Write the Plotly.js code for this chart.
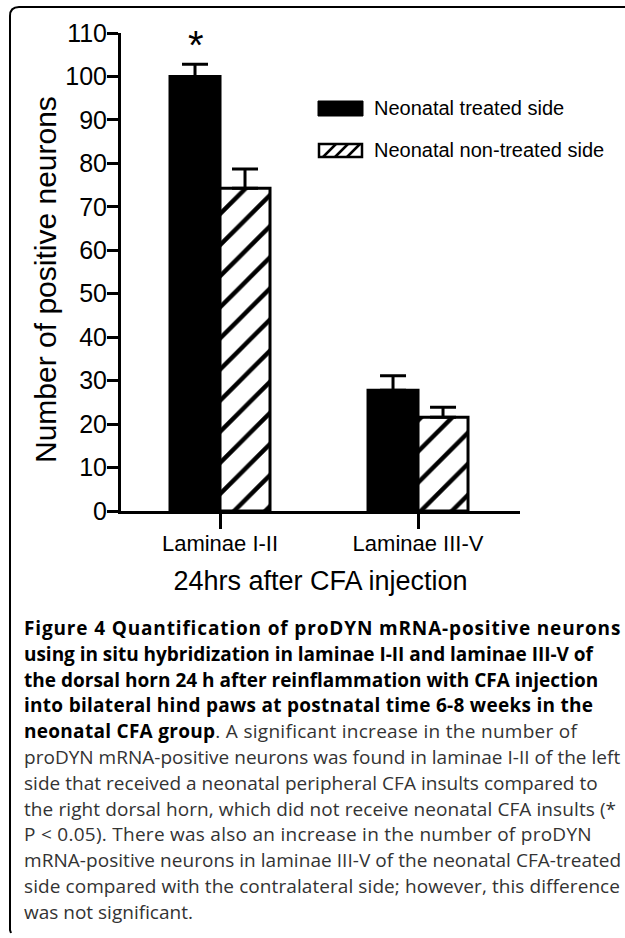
<!DOCTYPE html>
<html>
<head>
<meta charset="utf-8">
<script src="https://cdn.plot.ly/plotly-3.0.1.min.js"></script>
<style>html,body{margin:0;padding:0;background:#fff;}#chart{width:625px;height:938px;}</style>
</head>
<body>
<div id="chart"></div>
<script>
// ---- data ----
const categories = ['Laminae I-II', 'Laminae III-V'];
const seriesNames = ['Neonatal treated side', 'Neonatal non-treated side'];
const treatedMeans = [100, 27.8];
const treatedSEM = [2.8, 3.3];
const nonTreatedMeans = [74.3, 21.6];
const nonTreatedSEM = [4.4, 2.3];
const yTickVals = [0, 10, 20, 30, 40, 50, 60, 70, 80, 90, 100, 110];
const xTitle = '24hrs after CFA injection';
const yTitle = 'Number of positive neurons';
const significanceMark = '*';
// caption lines: [bold part, regular part]
const captionParts = [
  ['Figure 4 Quantification of proDYN mRNA-positive neurons', ''],
  ['using in situ hybridization in laminae I-II and laminae III-V of', ''],
  ['the dorsal horn 24 h after reinflammation with CFA injection', ''],
  ['into bilateral hind paws at postnatal time 6-8 weeks in the', ''],
  ['neonatal CFA group', '. A significant increase in the number of'],
  ['', 'proDYN mRNA-positive neurons was found in laminae I-II of the left'],
  ['', 'side that received a neonatal peripheral CFA insults compared to'],
  ['', 'the right dorsal horn, which did not receive neonatal CFA insults (*'],
  ['', 'P < 0.05). There was also an increase in the number of proDYN'],
  ['', 'mRNA-positive neurons in laminae III-V of the neonatal CFA-treated'],
  ['', 'side compared with the contralateral side; however, this difference'],
  ['', 'was not significant.']
];

// ---- layout geometry (pixels) ----
const W = 625, H = 938;
const L = 121, R = 520, T = 33, B = 511;
const px = v => (v - L) / (R - L);
const py = v => (B - v) / (B - T);
const chartFont = 'Liberation Sans, Arial, sans-serif';
const capFont = 'Open Sans, Noto Sans, sans-serif';
const capSize = 19;
const capLeft = 22;
const capRightEnds = [619, 591, 596, 591, 575, 618, 596, 614, 590, 619, 618, null];

const traces = [
  {
    type: 'bar', name: seriesNames[0], x: categories, y: treatedMeans,
    marker: {color: '#000', line: {color: '#000', width: 3}},
    error_y: {type: 'data', array: treatedSEM, arrayminus: [0, 0], symmetric: false,
              color: '#000', thickness: 3, width: 13},
    showlegend: false
  },
  {
    type: 'bar', name: seriesNames[1], x: categories, y: nonTreatedMeans,
    marker: {color: '#fff', line: {color: '#000', width: 3},
             pattern: {shape: '/', fgcolor: '#000', bgcolor: '#fff', size: 22, solidity: 0.2}},
    error_y: {type: 'data', array: nonTreatedSEM, arrayminus: [0, 0], symmetric: false,
              color: '#000', thickness: 3, width: 13},
    showlegend: false
  }
];

const annotations = [];
// significance star
annotations.push({
  x: categories[0], y: treatedMeans[0] + treatedSEM[0], xref: 'x', yref: 'y',
  xshift: -24, yshift: -5, yanchor: 'bottom', xanchor: 'center',
  text: significanceMark, showarrow: false,
  font: {family: chartFont, size: 40, color: '#000'}
});
// y axis title
annotations.push({
  x: px(45), y: py(280), xref: 'paper', yref: 'paper', textangle: -90,
  xanchor: 'center', yanchor: 'middle', text: yTitle, showarrow: false,
  font: {family: chartFont, size: 30, color: '#000'}
});
// legend text
const legendRowsY = [108, 150];
seriesNames.forEach((n, i) => {
  annotations.push({
    x: px(372), y: py(legendRowsY[i]), xref: 'paper', yref: 'paper',
    xanchor: 'left', yanchor: 'middle', text: n, showarrow: false,
    font: {family: chartFont, size: 20, color: '#000'}
  });
});
// caption (letter-spacing fitted to the reference line lengths)
const ctx = document.createElement('canvas').getContext('2d');
const measure = (s, bold) => {
  ctx.font = (bold ? 'bold ' : '') + capSize + 'px "Open Sans"';
  return ctx.measureText(s).width;
};
const esc = s => s.replace(/</g, '&lt;');
const capTop = 628, capStep = 25.8;
captionParts.forEach((p, i) => {
  const [b, r] = p;
  let ls = 0;
  if (capRightEnds[i] !== null) {
    const wNat = measure(b, true) + measure(r, false);
    const n = b.length + r.length;
    ls = (capRightEnds[i] - capLeft - wNat) / n;
    ls = Math.max(-1.5, Math.min(1.5, ls));
  }
  let text = '';
  if (b) text += `<span style="font-weight:bold;fill:#000;letter-spacing:${ls.toFixed(2)}px">${esc(b)}</span>`;
  if (r) text += `<span style="letter-spacing:${ls.toFixed(2)}px">${esc(r)}</span>`;
  annotations.push({
    x: px(capLeft), y: py(capTop + i * capStep), xref: 'paper', yref: 'paper',
    xanchor: 'left', yanchor: 'middle', text: text, showarrow: false, align: 'left',
    font: {family: capFont, size: capSize, color: '#333'}
  });
});

const shapes = [];
// frame
shapes.push({
  type: 'path', xref: 'paper', yref: 'paper',
  path: `M ${px(11)},${py(933)} L ${px(10)},${py(930)} L ${px(10)},${py(16)} Q ${px(10)},${py(7)} ${px(19)},${py(7)} L ${px(625)},${py(7)}`,
  line: {color: '#000', width: 2}
});
// legend swatches
shapes.push({type: 'rect', xref: 'paper', yref: 'paper',
  x0: px(318), x1: px(363), y0: py(116), y1: py(101),
  fillcolor: '#000', line: {color: '#000', width: 1}});
shapes.push({type: 'rect', xref: 'paper', yref: 'paper',
  x0: px(319), x1: px(362), y0: py(157), y1: py(144),
  fillcolor: '#fff', line: {color: '#000', width: 2.5}});
[323, 335, 347].forEach(x0 => {
  shapes.push({type: 'line', xref: 'paper', yref: 'paper',
    x0: px(x0), y0: py(157), x1: px(x0 + 13), y1: py(144),
    line: {color: '#000', width: 2.5}});
});

const layout = {
  width: W, height: H,
  margin: {l: L, r: W - R, t: T, b: H - B, pad: 0},
  paper_bgcolor: '#fff', plot_bgcolor: '#fff',
  barmode: 'group', bargap: 0.495, bargroupgap: 0,
  showlegend: false,
  font: {family: chartFont, color: '#000'},
  xaxis: {
    type: 'category', range: [-0.5, 1.515],
    showline: true, linecolor: '#000', linewidth: 3,
    ticks: 'outside', ticklen: 15, tickwidth: 3, tickcolor: '#000',
    ticklabelstandoff: -4,
    showgrid: false, zeroline: false,
    tickfont: {family: chartFont, size: 22, color: '#000'},
    title: {text: xTitle, font: {family: chartFont, size: 27, color: '#000'}, standoff: 16},
    automargin: false, fixedrange: true
  },
  yaxis: {
    range: [0, 110], tickvals: yTickVals,
    showline: true, linecolor: '#000', linewidth: 3,
    ticks: 'outside', ticklen: 11, tickwidth: 3, tickcolor: '#000',
    ticklabelstandoff: -5,
    showgrid: false, zeroline: false,
    tickfont: {family: chartFont, size: 25, color: '#000'},
    automargin: false, fixedrange: true
  },
  annotations: annotations,
  shapes: shapes
};

Plotly.newPlot('chart', traces, layout, {displayModeBar: false, staticPlot: true});
</script>
</body>
</html>
